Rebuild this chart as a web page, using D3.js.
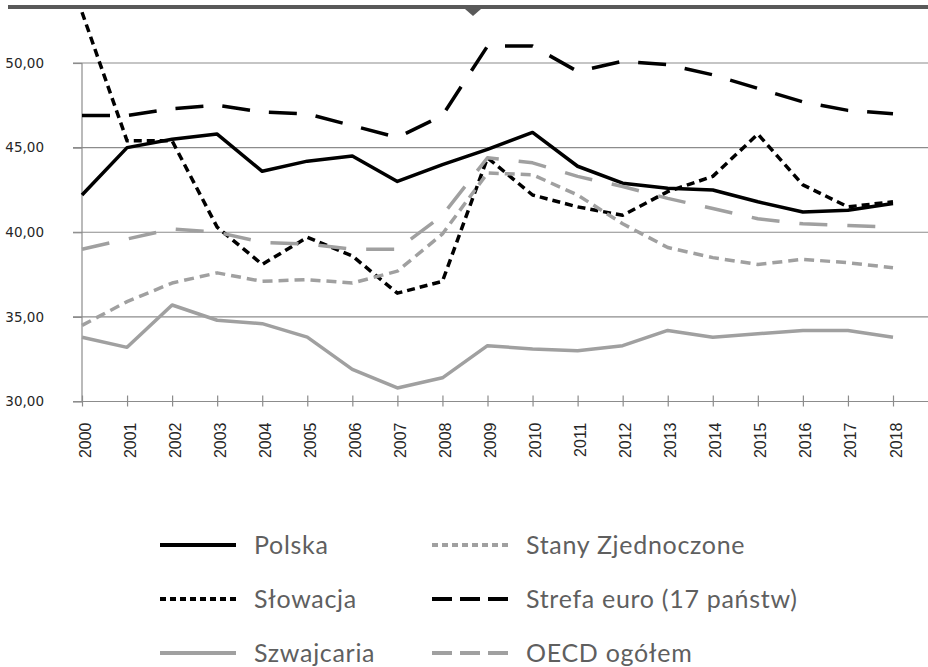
<!DOCTYPE html>
<html>
<head>
<meta charset="utf-8">
<script src="https://cdn.jsdelivr.net/npm/d3@7"></script>
<style>
  html, body { margin: 0; padding: 0; background: #fff; }
  svg { display: block; }
</style>
</head>
<body>
<svg id="chart" width="928" height="667"></svg>
<script>
// ---- data ----
const years = ["2000","2001","2002","2003","2004","2005","2006","2007","2008","2009",
               "2010","2011","2012","2013","2014","2015","2016","2017","2018"];
const polska     = [42.2,45.0,45.5,45.8,43.6,44.2,44.5,43.0,44.0,44.9,45.9,43.9,42.9,42.6,42.5,41.8,41.2,41.3,41.7];
const slowacja   = [53.0,45.4,45.4,40.3,38.1,39.7,38.6,36.4,37.1,44.4,42.2,41.5,41.0,42.4,43.3,45.8,42.8,41.5,41.8];
const szwajcaria = [33.8,33.2,35.7,34.8,34.6,33.8,31.9,30.8,31.4,33.3,33.1,33.0,33.3,34.2,33.8,34.0,34.2,34.2,33.8];
const stany      = [34.5,35.9,37.0,37.6,37.1,37.2,37.0,37.7,39.9,43.5,43.4,42.2,40.5,39.1,38.5,38.1,38.4,38.2,37.9];
const strefa     = [46.9,46.9,47.3,47.5,47.1,47.0,46.3,45.6,46.9,51.0,51.0,49.5,50.1,49.9,49.3,48.5,47.7,47.2,47.0];
const oecd       = [39.0,39.6,40.2,40.0,39.4,39.3,39.0,39.0,41.0,44.4,44.1,43.3,42.7,42.0,41.4,40.8,40.5,40.4,40.3];
const yTicks = [30, 35, 40, 45, 50];
const seriesNames = ["Polska","Słowacja","Szwajcaria","Stany Zjednoczone","Strefa euro (17 państw)","OECD ogółem"];

// ---- styles ----
const BLACK = "#000000", GRAY = "#a0a0a0", TEXT = "#5f5f5f", GRID = "#8c8c8c";
const series = [
  {name: seriesNames[0], values: polska,     color: BLACK, dash: null,    legDash: null},
  {name: seriesNames[1], values: slowacja,   color: BLACK, dash: "8,5",   legDash: "6,4"},
  {name: seriesNames[2], values: szwajcaria, color: GRAY,  dash: null,    legDash: null},
  {name: seriesNames[3], values: stany,      color: GRAY,  dash: "10,6",  legDash: "6,4"},
  {name: seriesNames[4], values: strefa,     color: BLACK, dash: "28,19", legDash: "20,8"},
  {name: seriesNames[5], values: oecd,       color: GRAY,  dash: "28,20", legDash: "20,8"}
];

const svg = d3.select("#chart");

// top bar with notch
svg.append("rect").attr("x", 8).attr("y", 5).attr("width", 920).attr("height", 4).attr("fill", "#595959");
svg.append("path").attr("d", "M465,9 L481,9 L473,16 Z").attr("fill", "#595959");

// scales
const x = d3.scalePoint().domain(years).range([82, 893]);
const y = d3.scaleLinear().domain([30, 50]).range([401.5, 63]);

// gridlines
svg.append("g").selectAll("line").data(yTicks.filter(t => t > 30)).join("line")
  .attr("x1", 73).attr("x2", 928)
  .attr("y1", d => y(d)).attr("y2", d => y(d))
  .attr("stroke", GRID).attr("stroke-width", 1.2);

// y axis line
svg.append("line").attr("x1", 82).attr("x2", 82).attr("y1", y(50)).attr("y2", y(30))
  .attr("stroke", GRID).attr("stroke-width", 1.2);

// y axis labels via d3 axis
const yAxis = d3.axisLeft(y).tickValues(yTicks).tickSize(9).tickPadding(29)
  .tickFormat(d => d3.format(".2f")(d).replace(".", ","));
const gy = svg.append("g").attr("transform", "translate(82,0)").call(yAxis);
gy.attr("font-family", null).attr("font-size", null);
gy.select(".domain").remove();
gy.selectAll(".tick line").attr("stroke", GRID).attr("stroke-width", 1.2);
gy.selectAll(".tick text")
  .style("font-family", "'DejaVu Sans', Verdana, sans-serif")
  .style("font-size", "13.5px").attr("fill", "#262626");

// x axis
const xAxis = d3.axisBottom(x).tickSize(5).tickPadding(0);
const gx = svg.append("g").attr("transform", `translate(0,${y(30)})`).call(xAxis);
gx.attr("font-family", null).attr("font-size", null);
gx.select(".domain").attr("d", `M73,0H928`).attr("stroke", GRID).attr("stroke-width", 1.2);
gx.selectAll(".tick line").attr("y1", -6).attr("y2", 5).attr("stroke", GRID).attr("stroke-width", 1.2);
gx.selectAll(".tick text")
  .style("font-family", "'Liberation Sans', Arial, sans-serif")
  .style("font-size", "16px").attr("fill", "#262626")
  .attr("transform", "rotate(-90)")
  .attr("text-anchor", "end")
  .attr("x", -21).attr("y", 0).attr("dy", "0.5em");

// lines
const line = d3.line().x((d, i) => x(years[i])).y(d => y(d));
svg.append("g").selectAll("path").data(series).join("path")
  .attr("d", d => line(d.values))
  .attr("fill", "none")
  .attr("stroke", d => d.color)
  .attr("stroke-width", 3.5)
  .attr("stroke-linejoin", "round")
  .attr("stroke-dasharray", d => d.dash);

// legend
const legX = [160, 432], legY = [545, 599, 653];
const leg = svg.append("g").selectAll("g").data(series).join("g")
  .attr("transform", (d, i) => `translate(${legX[Math.floor(i / 3)]},${legY[i % 3]})`);
leg.append("line").attr("x1", 0).attr("x2", 76).attr("y1", 0).attr("y2", 0)
  .attr("stroke", d => d.color).attr("stroke-width", 4)
  .attr("stroke-dasharray", d => d.legDash);
leg.append("text").attr("x", 94).attr("y", 0).attr("dy", "0.35em")
  .style("font-family", "Lato, sans-serif").style("font-size", "25px")
  .style("letter-spacing", "0.7px")
  .attr("fill", TEXT)
  .text(d => d.name);
</script>
</body>
</html>
